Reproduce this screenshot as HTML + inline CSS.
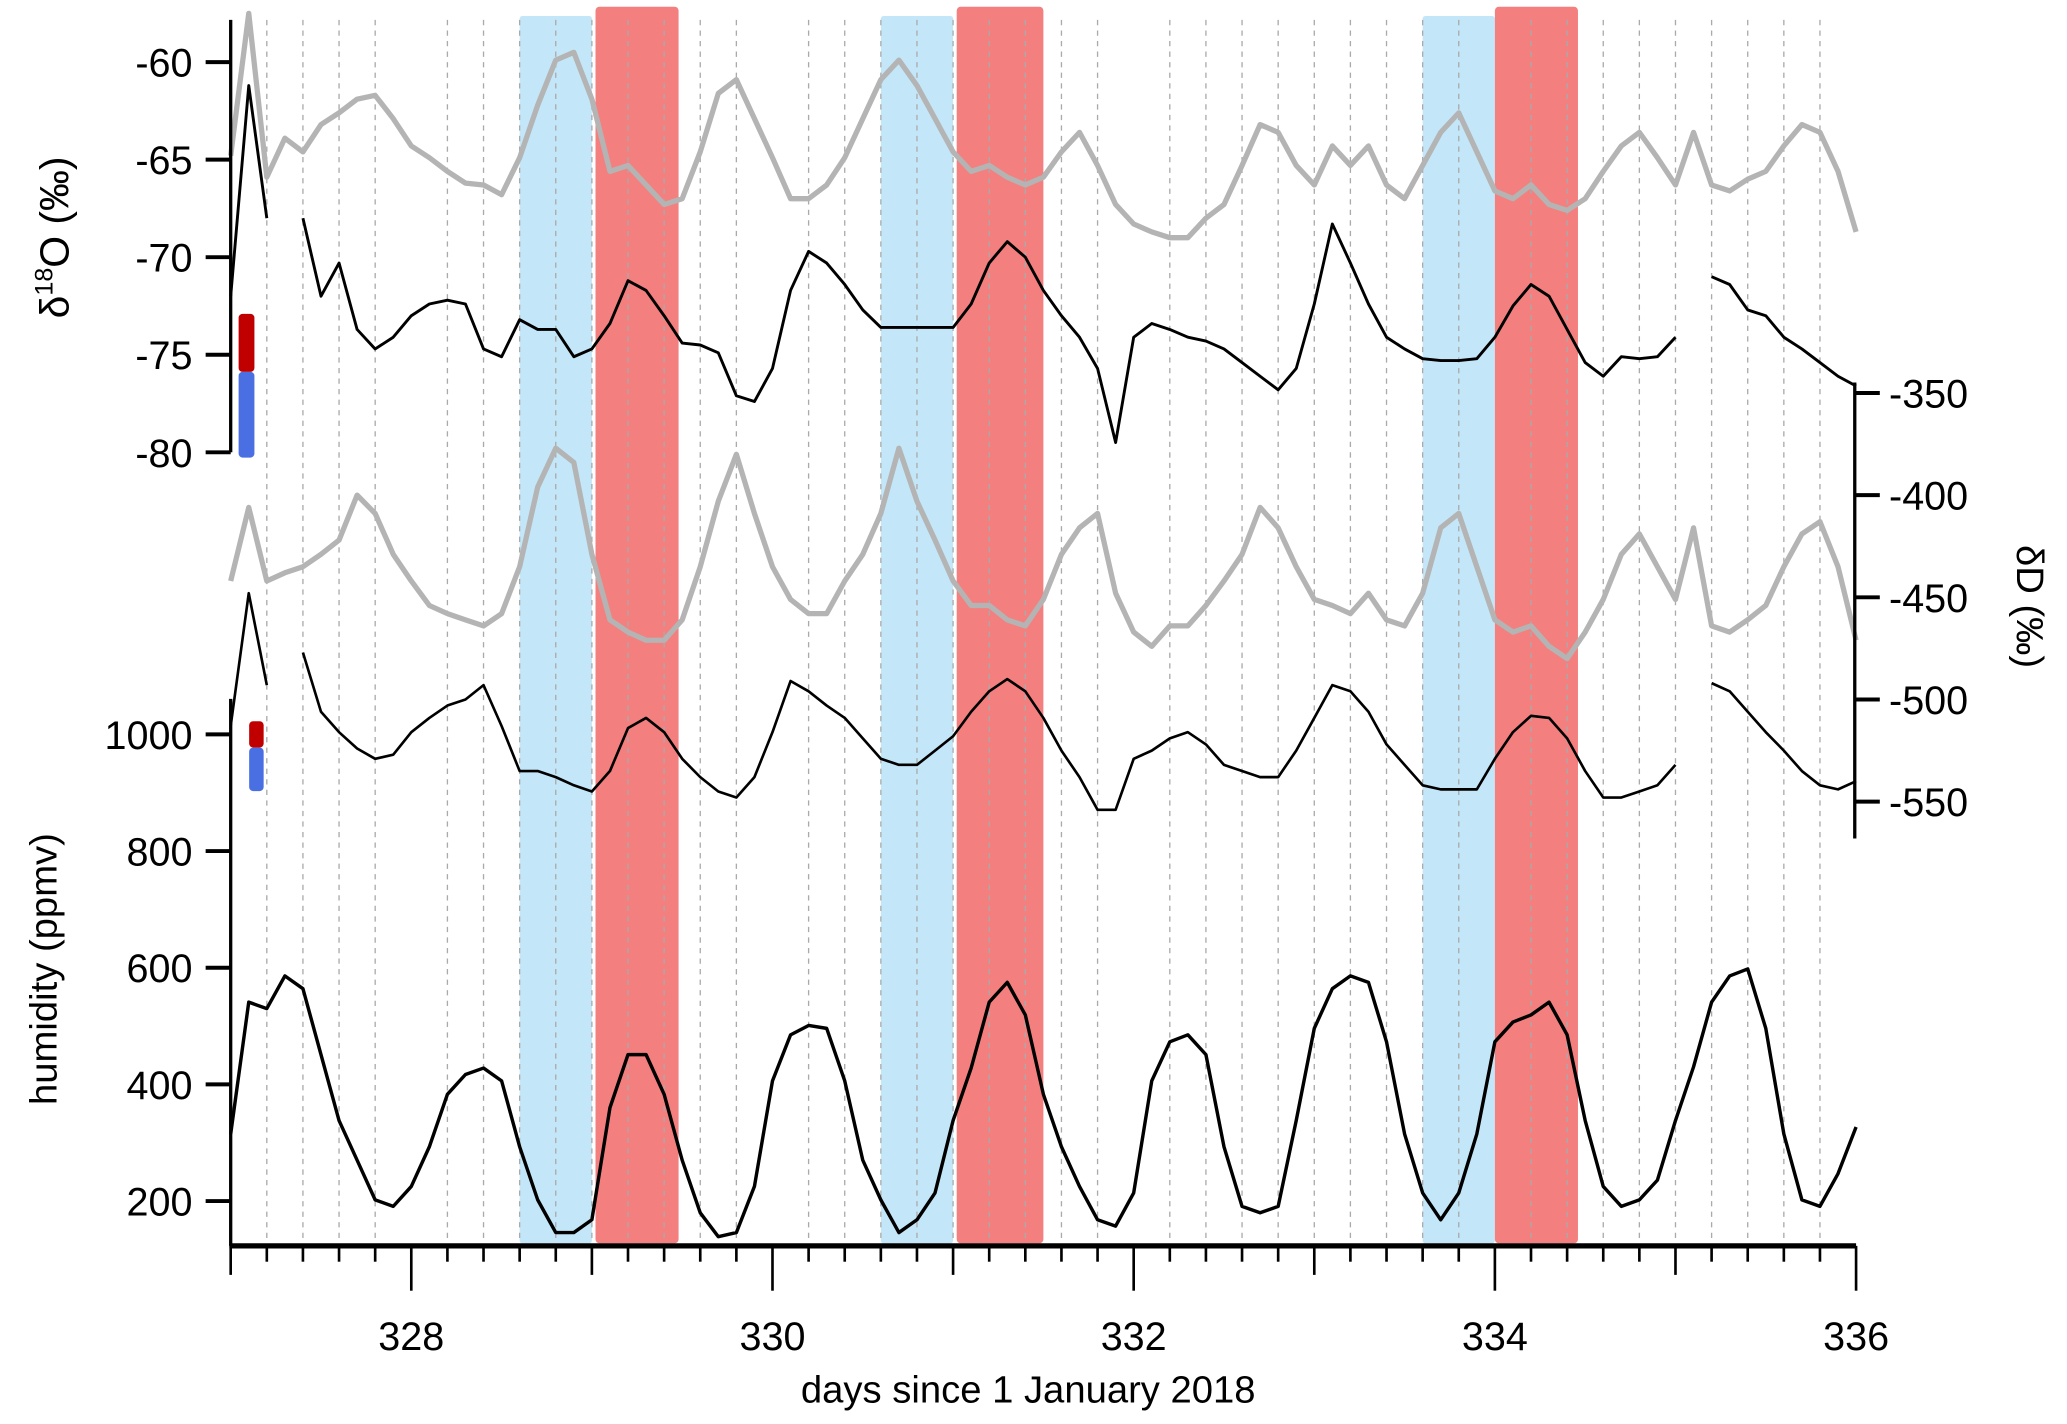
<!DOCTYPE html>
<html><head><meta charset="utf-8">
<style>
html,body{margin:0;padding:0;background:#fff;}
svg{display:block;font-family:"Liberation Sans",Arial,sans-serif;}
</style></head>
<body>
<svg id="chart" width="2067" height="1424" viewBox="0 0 1568 1080" xmlns="http://www.w3.org/2000/svg">
<g id="shade"></g>
<g id="grid"></g>
<g id="series"></g>
<g id="axes"></g>
<text transform="translate(52,180) rotate(-90)" text-anchor="middle" font-size="31">δ<tspan dy="-12" font-size="19">18</tspan><tspan dy="12">O (‰)</tspan></text>
<text transform="translate(43,735) rotate(-90)" text-anchor="middle" font-size="29">humidity (ppmv)</text>
<text transform="translate(1530,460) rotate(90)" text-anchor="middle" font-size="29">δD (‰)</text>
<text x="780" y="1064" text-anchor="middle" font-size="29">days since 1 January 2018</text>
<rect x="181" y="238" width="12" height="44" rx="3" fill="#c00000"/>
<rect x="181" y="282" width="12" height="65" rx="3" fill="#4a6fe3"/>
<rect x="189" y="547" width="11" height="20" rx="3" fill="#c00000"/>
<rect x="189" y="567" width="11" height="33" rx="3" fill="#4a6fe3"/>
</svg>
<script>
const days = [327.0,327.1,327.2,327.3,327.4,327.5,327.6,327.7,327.8,327.9,
328.0,328.1,328.2,328.3,328.4,328.5,328.6,328.7,328.8,328.9,
329.0,329.1,329.2,329.3,329.4,329.5,329.6,329.7,329.8,329.9,
330.0,330.1,330.2,330.3,330.4,330.5,330.6,330.7,330.8,330.9,
331.0,331.1,331.2,331.3,331.4,331.5,331.6,331.7,331.8,331.9,
332.0,332.1,332.2,332.3,332.4,332.5,332.6,332.7,332.8,332.9,
333.0,333.1,333.2,333.3,333.4,333.5,333.6,333.7,333.8,333.9,
334.0,334.1,334.2,334.3,334.4,334.5,334.6,334.7,334.8,334.9,
335.0,335.1,335.2,335.3,335.4,335.5,335.6,335.7,335.8,335.9,336.0];
const d18oGray = [-64.8,-57.5,-65.9,-63.9,-64.6,-63.2,-62.6,-61.9,-61.7,-62.9,
-64.3,-64.9,-65.6,-66.2,-66.3,-66.8,-64.9,-62.2,-59.9,-59.5,
-61.9,-65.6,-65.3,-66.3,-67.3,-67.0,-64.6,-61.6,-60.9,-62.9,
-64.9,-67.0,-67.0,-66.3,-64.9,-62.9,-60.9,-59.9,-61.2,-62.9,
-64.6,-65.6,-65.3,-65.9,-66.3,-65.9,-64.6,-63.6,-65.3,-67.3,
-68.3,-68.7,-69.0,-69.0,-68.0,-67.3,-65.3,-63.2,-63.6,-65.3,
-66.3,-64.3,-65.3,-64.3,-66.3,-67.0,-65.3,-63.6,-62.6,-64.6,
-66.6,-67.0,-66.3,-67.3,-67.6,-67.0,-65.6,-64.3,-63.6,-64.9,
-66.3,-63.6,-66.3,-66.6,-66.0,-65.6,-64.3,-63.2,-63.6,-65.6,-68.7];
const d18oBlack = [-72.0,-61.2,-68.0,null,-68.0,-72.0,-70.3,-73.7,-74.7,-74.1,
-73.0,-72.4,-72.2,-72.4,-74.7,-75.1,-73.2,-73.7,-73.7,-75.1,
-74.7,-73.4,-71.2,-71.7,-73.0,-74.4,-74.5,-74.9,-77.1,-77.4,
-75.7,-71.7,-69.7,-70.3,-71.4,-72.7,-73.6,-73.6,-73.6,-73.6,
-73.6,-72.4,-70.3,-69.2,-70.0,-71.7,-73.0,-74.1,-75.7,-79.5,
-74.1,-73.4,-73.7,-74.1,-74.3,-74.7,-75.4,-76.1,-76.8,-75.7,
-72.4,-68.3,-70.3,-72.4,-74.1,-74.7,-75.2,-75.3,-75.3,-75.2,
-74.1,-72.5,-71.4,-72.0,-73.7,-75.4,-76.1,-75.1,-75.2,-75.1,
-74.1,null,-71.0,-71.4,-72.7,-73.0,-74.1,-74.7,-75.4,-76.1,-76.6];
const dDGray = [-442,-406,-442,-438,-435,-429,-422,-400,-409,-429,
-442,-454,-458,-461,-464,-458,-435,-396,-377,-384,
-429,-461,-467,-471,-471,-461,-435,-403,-380,-409,
-435,-451,-458,-458,-442,-429,-409,-377,-403,-422,
-442,-454,-454,-461,-464,-451,-429,-416,-409,-448,
-467,-474,-464,-464,-454,-442,-429,-406,-416,-435,
-451,-454,-458,-448,-461,-464,-448,-416,-409,-435,
-461,-467,-464,-474,-480,-467,-451,-429,-419,-435,
-451,-416,-464,-467,-461,-454,-435,-419,-413,-435,-471];
const dDBlack = [-513,-448,-493,null,-477,-506,-516,-524,-529,-527,
-516,-509,-503,-500,-493,-513,-535,-535,-538,-542,
-545,-535,-514,-509,-516,-529,-538,-545,-548,-538,
-516,-491,-496,-503,-509,-519,-529,-532,-532,-525,
-518,-506,-496,-490,-496,-509,-525,-538,-554,-554,
-529,-525,-519,-516,-522,-532,-535,-538,-538,-525,
-509,-493,-496,-506,-522,-532,-542,-544,-544,-544,
-529,-516,-508,-509,-519,-535,-548,-548,-545,-542,
-532,null,-492,-496,-506,-516,-525,-535,-542,-544,-540];
const humidity = [315,541,530,586,564,451,338,270,202,191,
225,293,383,417,428,406,293,202,146,146,
168,360,451,451,383,270,180,139,146,225,
406,485,501,496,406,270,202,146,168,214,
338,428,541,575,519,383,293,225,168,157,
214,406,473,485,451,293,191,180,191,338,
496,564,586,575,473,315,214,168,214,315,
473,507,519,541,485,338,225,191,202,236,
338,430,541,586,598,496,315,202,191,247,327];
const blueEvents = [[328.6,329.0],[330.6,331.0],[333.6,334.0]];
const redEvents = [[329.02,329.48],[331.02,331.5],[334.0,334.46]];
const xMajorLabels = [328,330,332,334,336];
const d18oTicks = [-60,-65,-70,-75,-80];
const dDTicks = [-350,-400,-450,-500,-550];
const humTicks = [1000,800,600,400,200];

const NS='http://www.w3.org/2000/svg';
const X = d => 175 + (d-327)*137;
const YO = v => 47 + (-60 - v)*14.8;
const YD = v => 298 + (-350 - v)*1.55;
const YH = v => 557 + (1000 - v)*0.4425;
function mk(tag, attrs, parent){const e=document.createElementNS(NS,tag);for(const k in attrs)e.setAttribute(k,attrs[k]);parent.appendChild(e);return e;}
const shade=document.getElementById('shade'), grid=document.getElementById('grid'), ser=document.getElementById('series'), axes=document.getElementById('axes');

blueEvents.forEach(ev=>{const r=mk('rect',{x:X(ev[0]),y:12,width:X(ev[1])-X(ev[0]),height:931,fill:'#c3e7f8',rx:2},shade);

});
redEvents.forEach(ev=>{const r=mk('rect',{x:X(ev[0]),y:5,width:X(ev[1])-X(ev[0]),height:938,fill:'#f47f7f',rx:3},shade);

});

for(let i=1;i<45;i++){const d=327+i*0.2;if(Math.abs(d-Math.round(d))<1e-6&&Math.round(d)%2===0)continue;
const l=mk('line',{x1:X(d),x2:X(d),y1:15,y2:943,stroke:'#aaa','stroke-width':1,'stroke-dasharray':'4,4'},grid);

}

function drawSeries(vals, yf, color, width, name){
  let d='',pen=false;
  vals.forEach((v,i)=>{if(v===null){pen=false;return;}d+=(pen?'L':'M')+X(days[i]).toFixed(1)+','+yf(v).toFixed(1);pen=true;});
  const p=mk('path',{d:d,fill:'none',stroke:color,'stroke-width':width,'stroke-linejoin':'round'},ser);
  
  
}
drawSeries(d18oGray,YO,'#b4b4b4',4,'d18o-gray-series');
drawSeries(d18oBlack,YO,'#000',2.2,'d18o-black-series');
drawSeries(dDGray,YD,'#b4b4b4',4,'dd-gray-series');
drawSeries(dDBlack,YD,'#000',2,'dd-black-series');
drawSeries(humidity,YH,'#000',2.6,'humidity-series');

function axLine(x1,y1,x2,y2,w,name){const l=mk('line',{x1:x1,y1:y1,x2:x2,y2:y2,stroke:'#000','stroke-width':w},axes);

}
axLine(175,15,175,343,2.5,'d18o-axis-line');
axLine(175,530,175,945,2.5,'humidity-axis-line');
axLine(1407,290,1407,636,2.5,'dd-axis-line');
axLine(174,945,1408,945,4,'x-axis-line');
function tickLabel(x,y,txt,anchor,name){const t=mk('text',{x:x,y:y,'text-anchor':anchor,'font-size':30,fill:'#000'},axes);t.textContent=txt;

}
d18oTicks.forEach(v=>{axLine(156,YO(v),175,YO(v),3,'d18o-tick');tickLabel(146,YO(v)+11,String(v),'end','d18o-tick-label');});
humTicks.forEach(v=>{axLine(156,YH(v),175,YH(v),3,'humidity-tick');tickLabel(146,YH(v)+11,String(v),'end','humidity-tick-label');});
dDTicks.forEach(v=>{axLine(1407,YD(v),1426,YD(v),3,'dd-tick');tickLabel(1433,YD(v)+11,String(v),'start','dd-tick-label');});
for(let i=0;i<=45;i++){const d=327+i*0.2;const r=Math.round(d);let len=12;
if(Math.abs(d-r)<1e-6){len=(r%2===0)?34:22;}
axLine(X(d),945,X(d),945+len,2,'x-tick');}
xMajorLabels.forEach(v=>tickLabel(X(v),1024,String(v),'middle','x-tick-label'));
</script>
</body></html>
